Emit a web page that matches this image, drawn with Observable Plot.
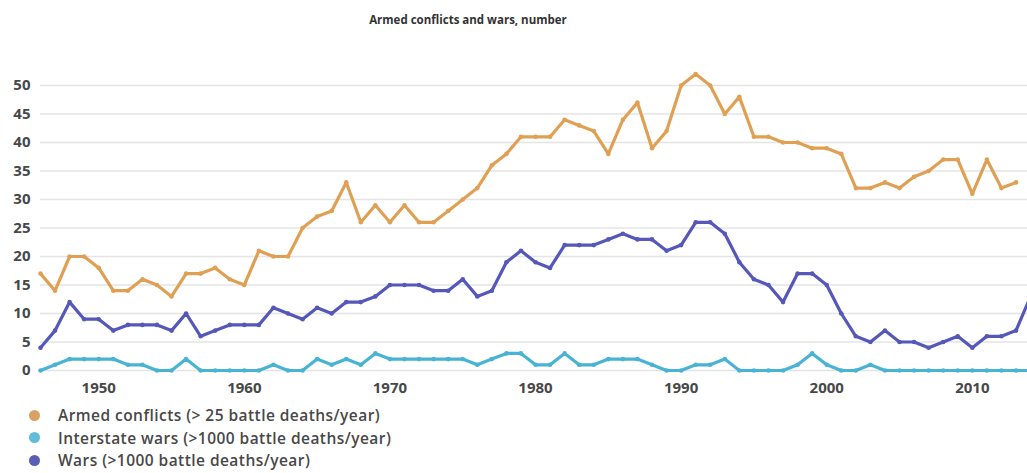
<!DOCTYPE html>
<html>
<head>
<meta charset="utf-8">
<script src="https://cdn.jsdelivr.net/npm/d3@7"></script>
<script src="https://cdn.jsdelivr.net/npm/@observablehq/plot@0.6"></script>
<style>
  html, body { margin: 0; padding: 0; background: #fff; }
  body { width: 1027px; height: 473px; position: relative; overflow: hidden; font-family: "Open Sans", sans-serif; }
  #title { position: absolute; left: 0; width: 936px; top: 12px; text-align: center; font-size: 11.5px; font-weight: 700; color: #333; line-height: 16px; }
  #chart { position: absolute; left: 0; top: 40px; }
  #legend { position: absolute; left: 29px; top: 404px; font-size: 15.5px; letter-spacing: 0.45px; font-weight: 600; color: #484848; }
  .item { height: 22.5px; display: flex; align-items: center; }
  .sw { width: 11px; height: 11px; border-radius: 50%; margin-right: 18px; }
</style>
</head>
<body>
<div id="title">Armed conflicts and wars, number</div>
<div id="chart"></div>
<div id="legend"></div>
<script>
const years = [1946,1947,1948,1949,1950,1951,1952,1953,1954,1955,1956,1957,1958,1959,
  1960,1961,1962,1963,1964,1965,1966,1967,1968,1969,1970,1971,1972,1973,1974,1975,1976,1977,1978,1979,
  1980,1981,1982,1983,1984,1985,1986,1987,1988,1989,1990,1991,1992,1993,1994,1995,1996,1997,1998,1999,
  2000,2001,2002,2003,2004,2005,2006,2007,2008,2009,2010,2011,2012,2013,2014];

// Armed conflicts (> 25 battle deaths/year), 1946–2013
const armedConflicts = [17,14,20,20,18,14,14,16,15,13,17,17,18,16,
  15,21,20,20,25,27,28,33,26,29,26,29,26,26,28,30,32,36,38,41,
  41,41,44,43,42,38,44,47,39,42,50,52,50,45,48,41,41,40,40,39,
  39,38,32,32,33,32,34,35,37,37,31,37,32,33];

// Interstate wars (>1000 battle deaths/year), 1946–2014
const interstateWars = [0,1,2,2,2,2,1,1,0,0,2,0,0,0,
  0,0,1,0,0,2,1,2,1,3,2,2,2,2,2,2,1,2,3,3,
  1,1,3,1,1,2,2,2,1,0,0,1,1,2,0,0,0,0,1,3,
  1,0,0,1,0,0,0,0,0,0,0,0,0,0,0];

// Wars (>1000 battle deaths/year), 1946–2014
const wars = [4,7,12,9,9,7,8,8,8,7,10,6,7,8,
  8,8,11,10,9,11,10,12,12,13,15,15,15,14,14,16,13,14,19,21,
  19,18,22,22,22,23,24,23,23,21,22,26,26,24,19,16,15,12,17,17,
  15,10,6,5,7,5,5,4,5,6,4,6,6,7,13];

const seriesNames = ["Armed conflicts (> 25 battle deaths/year)", "Interstate wars (>1000 battle deaths/year)", "Wars (>1000 battle deaths/year)"];
const seriesColors = ["#e0a054", "#48b3d3", "#5558b8"];
const legendColors = ["#d8a262", "#62bcd9", "#5b5fb3"];
const yTicks = [0,5,10,15,20,25,30,35,40,45,50];
const xTicks = [1950,1960,1970,1980,1990,2000,2010];

const seriesValues = [armedConflicts, interstateWars, wars];
const rows = [];
seriesValues.forEach((vals, s) => {
  vals.forEach((v, i) => rows.push({year: years[i], value: v, series: seriesNames[s]}));
});

const chart = Plot.plot({
  width: 1027,
  height: 370,
  marginLeft: 40,
  marginRight: 0,
  marginTop: 16.5,
  marginBottom: 40,
  style: {fontFamily: "Open Sans, sans-serif", fontSize: "15px", fontWeight: 700, color: "#484848", background: "transparent"},
  x: {domain: [1946, 2013.79], label: null},
  y: {domain: [0, 55], label: null},
  color: {domain: seriesNames, range: seriesColors},
  marks: [
    Plot.ruleY(yTicks, {stroke: "#e4e4e4", strokeWidth: 1.6}),
    Plot.axisY(yTicks, {tickSize: 0, tickPadding: 10, label: null, fill: "#484848", fontSize: 15}),
    Plot.axisX(xTicks, {tickSize: 0, tickPadding: 12, label: null, tickFormat: d => String(d), fill: "#484848", fontSize: 15}),
    Plot.line(rows, {x: "year", y: "value", z: "series", stroke: "series", strokeWidth: 3.2, strokeLinejoin: "round"}),
    Plot.dot(rows, {x: "year", y: "value", fill: "series", r: 2.3})
  ]
});
document.getElementById("chart").appendChild(chart);

const legend = d3.select("#legend");
seriesNames.forEach((name, i) => {
  const it = legend.append("div").attr("class", "item");
  it.append("div").attr("class", "sw").style("background", legendColors[i]);
  it.append("span").text(name);
});
</script>
</body>
</html>
